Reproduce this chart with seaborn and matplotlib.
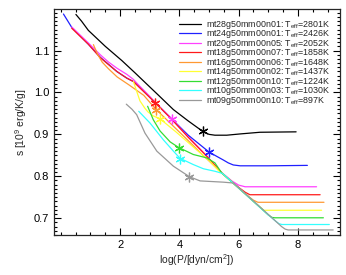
import matplotlib
matplotlib.use("Agg")
import matplotlib.pyplot as plt
import seaborn as sns

# model names and effective temperatures
models = ["mt28g50mm00n01", "mt24g50mm00n01", "mt20g50mm00n05", "mt18g50mm00n07",
          "mt16g50mm00n06", "mt14g50mm00n02", "mt12g50mm00n10", "mt10g50mm00n03",
          "mt09g50mm00n10"]
teff = [2801, 2426, 2052, 1858, 1648, 1437, 1224, 1030, 897]
colors = ["#000000", "#2020ff", "#ff40ff", "#ff1a1a", "#ff9933",
          "#ffff33", "#33dd33", "#33ffff", "#999999"]

# log P vs entropy
x28 = [0.51, 0.7, 0.93, 1.5, 2.06, 2.5, 3.3, 3.8, 4.3, 4.79, 5.0, 5.2, 5.6, 6.05, 6.72, 7.94]
s28 = [1.186, 1.170, 1.148, 1.110, 1.076, 1.047, 0.993, 0.959, 0.932, 0.907, 0.900, 0.898,
       0.898, 0.901, 0.905, 0.906]
x24 = [0.09, 0.37, 0.93, 1.33, 1.89, 2.23, 2.45, 2.62, 2.90, 3.18, 3.74, 4.3, 5.0, 5.25,
       5.48, 5.65, 5.82, 6.05, 7.0, 8.32]
s24 = [1.187, 1.155, 1.115, 1.084, 1.050, 1.034, 1.026, 1.016, 0.996, 0.976, 0.937, 0.898,
       0.858, 0.848, 0.839, 0.832, 0.827, 0.825, 0.825, 0.826]
x20 = [0.37, 0.93, 1.33, 1.6, 1.89, 2.23, 2.45, 2.62, 2.90, 3.18, 3.74, 4.3, 4.9, 5.43,
       5.77, 6.0, 6.22, 8.63]
s20 = [1.156, 1.118, 1.090, 1.073, 1.058, 1.043, 1.031, 1.018, 0.998, 0.977, 0.937, 0.894,
       0.850, 0.809, 0.789, 0.779, 0.775, 0.775]
x18 = [0.37, 0.93, 1.33, 1.89, 2.23, 2.45, 2.62, 2.90, 3.18, 3.74, 4.3, 4.9, 5.43, 5.8,
       6.05, 6.22, 6.38, 8.75]
s18 = [1.153, 1.115, 1.083, 1.050, 1.034, 1.026, 1.014, 0.995, 0.976, 0.936, 0.893, 0.850,
       0.808, 0.785, 0.771, 0.762, 0.756, 0.756]
x16 = [1.10, 1.25, 1.40, 1.6, 1.9, 2.3, 2.8, 3.18, 3.6, 4.2, 4.8, 5.43, 6.0, 6.35, 6.5,
       6.65, 8.88]
s16 = [1.114, 1.090, 1.072, 1.057, 1.037, 1.018, 0.993, 0.962, 0.933, 0.892, 0.850, 0.808,
       0.772, 0.751, 0.743, 0.738, 0.738]
x14 = [2.45, 2.55, 2.67, 2.84, 2.95, 3.12, 3.35, 3.9, 4.6, 5.0, 5.32, 5.45, 6.0, 6.5,
       6.72, 6.85, 8.80]
s14 = [1.026, 1.005, 0.980, 0.962, 0.953, 0.944, 0.937, 0.905, 0.862, 0.838, 0.814, 0.807,
       0.772, 0.740, 0.727, 0.719, 0.719]
x12 = [2.93, 3.12, 3.35, 3.69, 3.97, 4.47, 4.92, 5.20, 5.43, 6.0, 6.5, 7.0, 7.12, 7.22,
       8.86]
s12 = [0.967, 0.935, 0.908, 0.882, 0.869, 0.852, 0.844, 0.832, 0.808, 0.772, 0.740, 0.708,
       0.702, 0.701, 0.701]
x10 = [2.63, 3.01, 3.46, 3.80, 4.02, 4.47, 4.81, 5.20, 5.45, 6.0, 6.5, 7.0, 7.25, 7.36,
       7.46, 9.06]
s10 = [0.955, 0.927, 0.887, 0.860, 0.843, 0.828, 0.818, 0.812, 0.807, 0.772, 0.740, 0.708,
       0.693, 0.687, 0.685, 0.685]
x09 = [2.21, 2.40, 2.56, 2.70, 2.84, 3.24, 3.80, 4.34, 4.70, 5.48, 5.82, 5.95, 6.5, 7.0,
       7.45, 7.57, 7.67, 9.19]
s09 = [0.972, 0.960, 0.947, 0.925, 0.903, 0.860, 0.824, 0.799, 0.789, 0.786, 0.784, 0.776,
       0.741, 0.709, 0.680, 0.674, 0.672, 0.672]

logp = [x28, x24, x20, x18, x16, x14, x12, x10, x09]
entropy = [s28, s24, s20, s18, s16, s14, s12, s10, s09]

# asterisk markers on each curve
mark_x = [4.79, 5.0, 3.75, 3.17, 3.2, 3.35, 3.98, 4.02, 4.34]
mark_s = [0.908, 0.857, 0.936, 0.975, 0.959, 0.937, 0.868, 0.842, 0.799]

sns.set_style("ticks")
plt.rcParams["font.family"] = ["Liberation Sans", "DejaVu Sans"]
plt.rcParams["mathtext.default"] = "regular"

fig = plt.figure(figsize=(3.46, 2.75), dpi=100)
ax = fig.add_axes([0.156, 0.1455, 0.8266, 0.8218])

for i in range(len(models)):
    lab = models[i] + ": T$_{eff}$=" + str(teff[i]) + "K"
    sns.lineplot(x=logp[i], y=entropy[i], color=colors[i], lw=0.9, label=lab,
                 sort=False, estimator=None, ax=ax)
for i in range(len(models)):
    ax.plot(mark_x[i], mark_s[i], ls="none", marker=(6, 2, 0), ms=7, mew=0.9,
            color=colors[i])

ax.set_xlim(-0.23, 9.42)
ax.set_ylim(0.661, 1.199)
ax.set_xticks([2, 4, 6, 8])
ax.set_xticks([x * 0.5 for x in range(0, 19)], minor=True)
ax.set_yticks([0.7, 0.8, 0.9, 1.0, 1.1])
ax.set_yticks([0.66 + 0.01 * k for k in range(54)], minor=True)
ax.set_yticklabels(["0.7", "0.8", "0.9", "1.0", "1.1"])
ax.tick_params(which="both", direction="in", top=True, right=True, labelsize=8,
               width=0.8, colors="black")
ax.tick_params(which="major", length=5)
ax.tick_params(which="minor", length=2.5)
for sp in ax.spines.values():
    sp.set_linewidth(0.9)

ax.set_xlabel("log(P/[dyn/cm$^2$])", fontsize=7.5, labelpad=2)
ax.set_ylabel("s [10$^9$ erg/K/g]", fontsize=7.5, labelpad=3)

leg = ax.legend(loc="upper right", frameon=False, fontsize=6.4, handlelength=2.4,
                handletextpad=0.6, labelspacing=-0.28, borderaxespad=0.7, borderpad=0.4)

fig.savefig("out.png", dpi=100)
